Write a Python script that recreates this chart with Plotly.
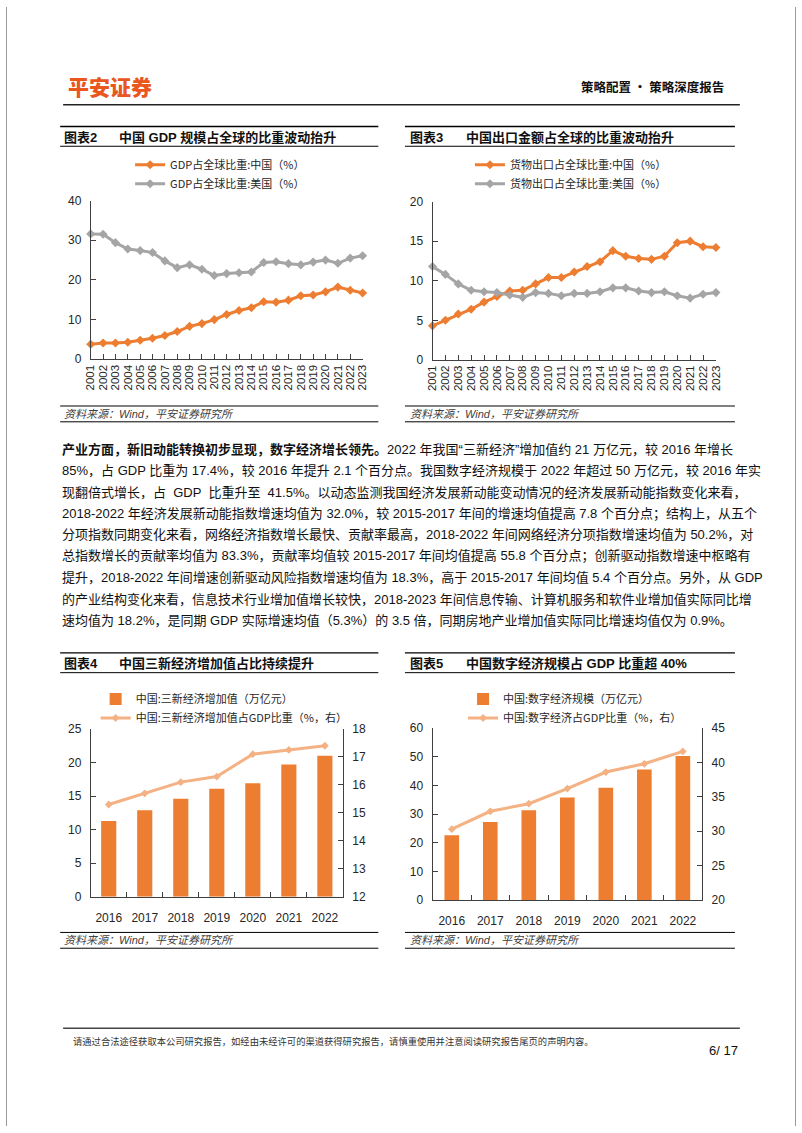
import plotly.graph_objects as go

W, H = 802, 1133


def X(px):
    return px / W


def Y(py):
    return 1 - py / H


# ---------------- data ----------------
years = list(range(2001, 2024))
year_labels = [str(y) for y in years]
gdp_share_china = [3.8, 4.1, 4.1, 4.3, 4.8, 5.3, 6.0, 7.0, 8.3, 9.0, 10.0, 11.3,
                   12.3, 13.0, 14.5, 14.4, 14.9, 16.0, 16.2, 17.0, 18.2, 17.4, 16.7]
gdp_share_us = [31.6, 31.5, 29.4, 27.8, 27.4, 26.9, 24.8, 23.1, 23.8, 22.7, 21.1, 21.6,
                21.8, 22.0, 24.4, 24.6, 24.1, 23.8, 24.5, 25.0, 24.2, 25.5, 26.1]
export_share_china = [4.3, 5.0, 5.8, 6.4, 7.3, 8.0, 8.7, 8.8, 9.6, 10.4, 10.4, 11.1,
                      11.8, 12.4, 13.8, 13.1, 12.8, 12.7, 13.1, 14.8, 15.0, 14.3, 14.2]
export_share_us = [11.8, 10.8, 9.6, 8.8, 8.6, 8.5, 8.2, 7.9, 8.5, 8.4, 8.1, 8.4,
                   8.4, 8.6, 9.1, 9.1, 8.7, 8.5, 8.6, 8.1, 7.8, 8.3, 8.5]

bar_years = ['2016', '2017', '2018', '2019', '2020', '2021', '2022']
new_econ_value = [11.3, 12.9, 14.6, 16.1, 16.9, 19.7, 21.0]
new_econ_share = [15.3, 15.7, 16.1, 16.3, 17.1, 17.25, 17.4]
digital_econ_value = [22.6, 27.2, 31.3, 35.8, 39.2, 45.5, 50.2]
digital_econ_share = [30.3, 32.9, 34.0, 36.2, 38.6, 39.8, 41.6]

paragraph_lines = [
    "<b>产业方面，新旧动能转换初步显现，数字经济增长领先。</b>2022 年我国“三新经济”增加值约 21 万亿元，较 2016 年增长",
    "85%，占 GDP 比重为 17.4%，较 2016 年提升 2.1 个百分点。我国数字经济规模于 2022 年超过 50 万亿元，较 2016 年实",
    "现翻倍式增长，占  GDP  比重升至  41.5%。以动态监测我国经济发展新动能变动情况的经济发展新动能指数变化来看，",
    "2018-2022 年经济发展新动能指数增速均值为 32.0%，较 2015-2017 年间的增速均值提高 7.8 个百分点；结构上，从五个",
    "分项指数同期变化来看，网络经济指数增长最快、贡献率最高，2018-2022 年间网络经济分项指数增速均值为 50.2%，对",
    "总指数增长的贡献率均值为 83.3%，贡献率均值较 2015-2017 年间均值提高 55.8 个百分点；创新驱动指数增速中枢略有",
    "提升，2018-2022 年间增速创新驱动风险指数增速均值为 18.3%，高于 2015-2017 年间均值 5.4 个百分点。另外，从 GDP",
    "的产业结构变化来看，信息技术行业增加值增长较快，2018-2023 年间信息传输、计算机服务和软件业增加值实际同比增",
    "速均值为 18.2%，是同期 GDP 实际增速均值（5.3%）的 3.5 倍，同期房地产业增加值实际同比增速均值仅为 0.9%。",
]

# ---------------- style ----------------
ORANGE = '#ED7D31'
GRAY = '#A5A5A5'
PEACH = '#F4B183'
FONT = 'Liberation Sans, Noto Sans CJK SC, sans-serif'
CJK = 'Noto Sans CJK SC, sans-serif'
TXT = '#262626'

fig = go.Figure()

# chart 2
fig.add_trace(go.Scatter(x=years, y=gdp_share_china, mode='lines+markers',
                         name='GDP占全球比重:中国（%）',
                         line=dict(color=ORANGE, width=3),
                         marker=dict(symbol='diamond', size=7, color=ORANGE),
                         xaxis='x', yaxis='y', legend='legend', cliponaxis=False))
fig.add_trace(go.Scatter(x=years, y=gdp_share_us, mode='lines+markers',
                         name='GDP占全球比重:美国（%）',
                         line=dict(color=GRAY, width=3),
                         marker=dict(symbol='diamond', size=7, color=GRAY),
                         xaxis='x', yaxis='y', legend='legend', cliponaxis=False))
# chart 3
fig.add_trace(go.Scatter(x=years, y=export_share_china, mode='lines+markers',
                         name='货物出口占全球比重:中国（%）',
                         line=dict(color=ORANGE, width=3),
                         marker=dict(symbol='diamond', size=7, color=ORANGE),
                         xaxis='x2', yaxis='y2', legend='legend2', cliponaxis=False))
fig.add_trace(go.Scatter(x=years, y=export_share_us, mode='lines+markers',
                         name='货物出口占全球比重:美国（%）',
                         line=dict(color=GRAY, width=3),
                         marker=dict(symbol='diamond', size=7, color=GRAY),
                         xaxis='x2', yaxis='y2', legend='legend2', cliponaxis=False))
# chart 4
fig.add_trace(go.Bar(x=bar_years, y=new_econ_value, name='中国:三新经济增加值（万亿元）',
                     marker=dict(color=ORANGE, line=dict(width=0)), width=0.42,
                     xaxis='x3', yaxis='y3', legend='legend3'))
fig.add_trace(go.Scatter(x=bar_years, y=new_econ_share, mode='lines+markers',
                         name='中国:三新经济增加值占GDP比重（%，右）',
                         line=dict(color=PEACH, width=3),
                         marker=dict(symbol='diamond', size=6, color=PEACH),
                         xaxis='x3', yaxis='y4', legend='legend3', cliponaxis=False))
# chart 5
fig.add_trace(go.Bar(x=bar_years, y=digital_econ_value, name='中国:数字经济规模（万亿元）',
                     marker=dict(color=ORANGE, line=dict(width=0)), width=0.38,
                     xaxis='x4', yaxis='y5', legend='legend4'))
fig.add_trace(go.Scatter(x=bar_years, y=digital_econ_share, mode='lines+markers',
                         name='中国:数字经济占GDP比重（%，右）',
                         line=dict(color=PEACH, width=3),
                         marker=dict(symbol='diamond', size=6, color=PEACH),
                         xaxis='x4', yaxis='y6', legend='legend4', cliponaxis=False))

axc = dict(showline=True, linecolor='#404040', linewidth=1, ticks='inside', ticklen=5,
           tickcolor='#404040', showgrid=False, zeroline=False, fixedrange=True,
           tickfont=dict(size=12, color=TXT, family=FONT))

layout_axes = dict(
    xaxis=dict(axc, domain=[X(86), X(362)], range=[2001, 2023], anchor='y',
               tickmode='array', tickvals=years, ticktext=year_labels, tickangle=-90,
               tickfont=dict(size=11.5, color=TXT, family=FONT)),
    yaxis=dict(axc, domain=[Y(356.7), Y(196)], range=[0, 40], dtick=10, tick0=0,
               anchor='x', ticklabelstandoff=6),
    xaxis2=dict(axc, domain=[X(433), X(720.7)], range=[2001, 2023], anchor='y2',
                tickmode='array', tickvals=years, ticktext=year_labels, tickangle=-90,
                tickfont=dict(size=11.5, color=TXT, family=FONT)),
    yaxis2=dict(axc, domain=[Y(357.3), Y(197)], range=[0, 20], dtick=5, tick0=0,
                anchor='x2', ticklabelstandoff=6),
    xaxis3=dict(axc, domain=[X(86), X(342)], type='category', range=[-0.5, 6.5],
                anchor='y3', tickson='boundaries', tickangle=0, ticklabelstandoff=10),
    yaxis3=dict(axc, domain=[Y(901), Y(731)], range=[0, 25], dtick=5, tick0=0,
                anchor='x3', ticklabelstandoff=6),
    yaxis4=dict(axc, range=[12, 18], dtick=1, tick0=12, anchor='x3', overlaying='y3',
                side='right', ticklabelstandoff=6),
    xaxis4=dict(axc, domain=[X(433), X(706.7)], type='category', range=[-0.5, 6.5],
                anchor='y5', tickson='boundaries', tickangle=0, ticklabelstandoff=9),
    yaxis5=dict(axc, domain=[Y(904.3), Y(730)], range=[0, 60], dtick=10, tick0=0,
                anchor='x4', ticklabelstandoff=6),
    yaxis6=dict(axc, range=[20, 45], dtick=5, tick0=20, anchor='x4', overlaying='y5',
                side='right', ticklabelstandoff=6),
)

legc = dict(xanchor='left', yanchor='top', orientation='v', bgcolor='rgba(0,0,0,0)',
            font=dict(size=11, color=TXT, family=CJK), itemwidth=30, tracegroupgap=0,
            itemclick=False, itemdoubleclick=False)

annotations = []
shapes = []


def text(x, y, s, size=13, color=TXT, bold=False, italic=False, xanchor='left',
         family=CJK, weight=None):
    f = dict(size=size, color=color, family=family)
    if weight is not None:
        f['weight'] = weight
    if italic:
        f['style'] = 'italic'
    annotations.append(dict(x=X(x), y=Y(y), xref='paper', yref='paper', text=s,
                            showarrow=False, xanchor=xanchor, yanchor='middle',
                            font=f, align='left'))


def hline(x0, x1, y, width=1.0, color='#000000'):
    shapes.append(dict(type='line', xref='paper', yref='paper', x0=X(x0), x1=X(x1),
                       y0=Y(y), y1=Y(y), line=dict(color=color, width=width)))


# header
text(61, 80, '平安证券', size=21, color='#E9561E', family=CJK, weight=900)
text(731, 81, '策略配置 · 策略深度报告', size=12.5, color='#111111', xanchor='right',
     family=CJK, weight=700)
hline(58, 745, 99, width=1.5, color='#222222')

# chart title bars and sources
for (x0, x1, tx, tt, title_y, top, bot, src_y, s_top, s_bot, label, title) in [
    (55, 378, 57, 113, 132, 121, 141, 412, 404, 420, '图表2', '中国 GDP 规模占全球的比重波动抬升'),
    (405, 740, 408, 465, 132, 121, 141, 412, 404, 420, '图表3', '中国出口金额占全球的比重波动抬升'),
    (55, 378, 57, 113, 665, 654, 674, 945, 937, 953, '图表4', '中国三新经济增加值占比持续提升'),
    (405, 740, 408, 465, 665, 654, 674, 945, 937, 953, '图表5', '中国数字经济规模占 GDP 比重超 40%'),
]:
    hline(x0, x1, top, width=1.3)
    hline(x0, x1, bot, width=1.0)
    text(tx, title_y, '<b>' + label + '</b>', size=13, color='#111111', family=FONT)
    text(tt, title_y, '<b>' + title + '</b>', size=13, color='#111111', family=FONT)
    hline(x0, x1, s_top, width=1.0)
    hline(x0, x1, s_bot, width=1.0)
    text(tx, src_y, '资料来源：Wind，平安证券研究所', size=11, color='#404040',
         italic=True, family=FONT)

# paragraph
for i, line in enumerate(paragraph_lines):
    text(55, 448 + i * 21.65, line, size=13, color='#111111', family=FONT)

# footer
hline(58, 745, 1034, width=1.5, color='#444444')
text(66, 1047, '请通过合法途径获取本公司研究报告，如经由未经许可的渠道获得研究报告，请慎重使用并注意阅读研究报告尾页的声明内容。',
     size=9.3, color='#333333', family=CJK)
text(745, 1057, '6/ 17', size=13, color='#111111', xanchor='right', family=FONT)

# page side borders
shapes.append(dict(type='line', xref='paper', yref='paper', x0=X(0.5), x1=X(0.5), y0=0, y1=1,
                   line=dict(color='#9a9a9a', width=1)))
shapes.append(dict(type='line', xref='paper', yref='paper', x0=X(801.5), x1=X(801.5), y0=0, y1=1,
                   line=dict(color='#9a9a9a', width=1)))

fig.update_layout(
    width=W, height=H, autosize=False,
    margin=dict(l=0, r=0, t=0, b=0, pad=0),
    paper_bgcolor='white', plot_bgcolor='white',
    font=dict(family=FONT, color=TXT),
    showlegend=True,
    legend=dict(legc, x=X(126), y=Y(145)),
    legend2=dict(legc, x=X(471), y=Y(145)),
    legend3=dict(legc, x=X(91), y=Y(686)),
    legend4=dict(legc, x=X(464), y=Y(686)),
    annotations=annotations,
    shapes=shapes,
    **layout_axes,
)

fig.write_html('out.html', config=dict(displayModeBar=False, staticPlot=True),
               post_script="document.body.style.margin='0px';document.body.style.padding='0px';document.body.style.overflow='hidden';")
